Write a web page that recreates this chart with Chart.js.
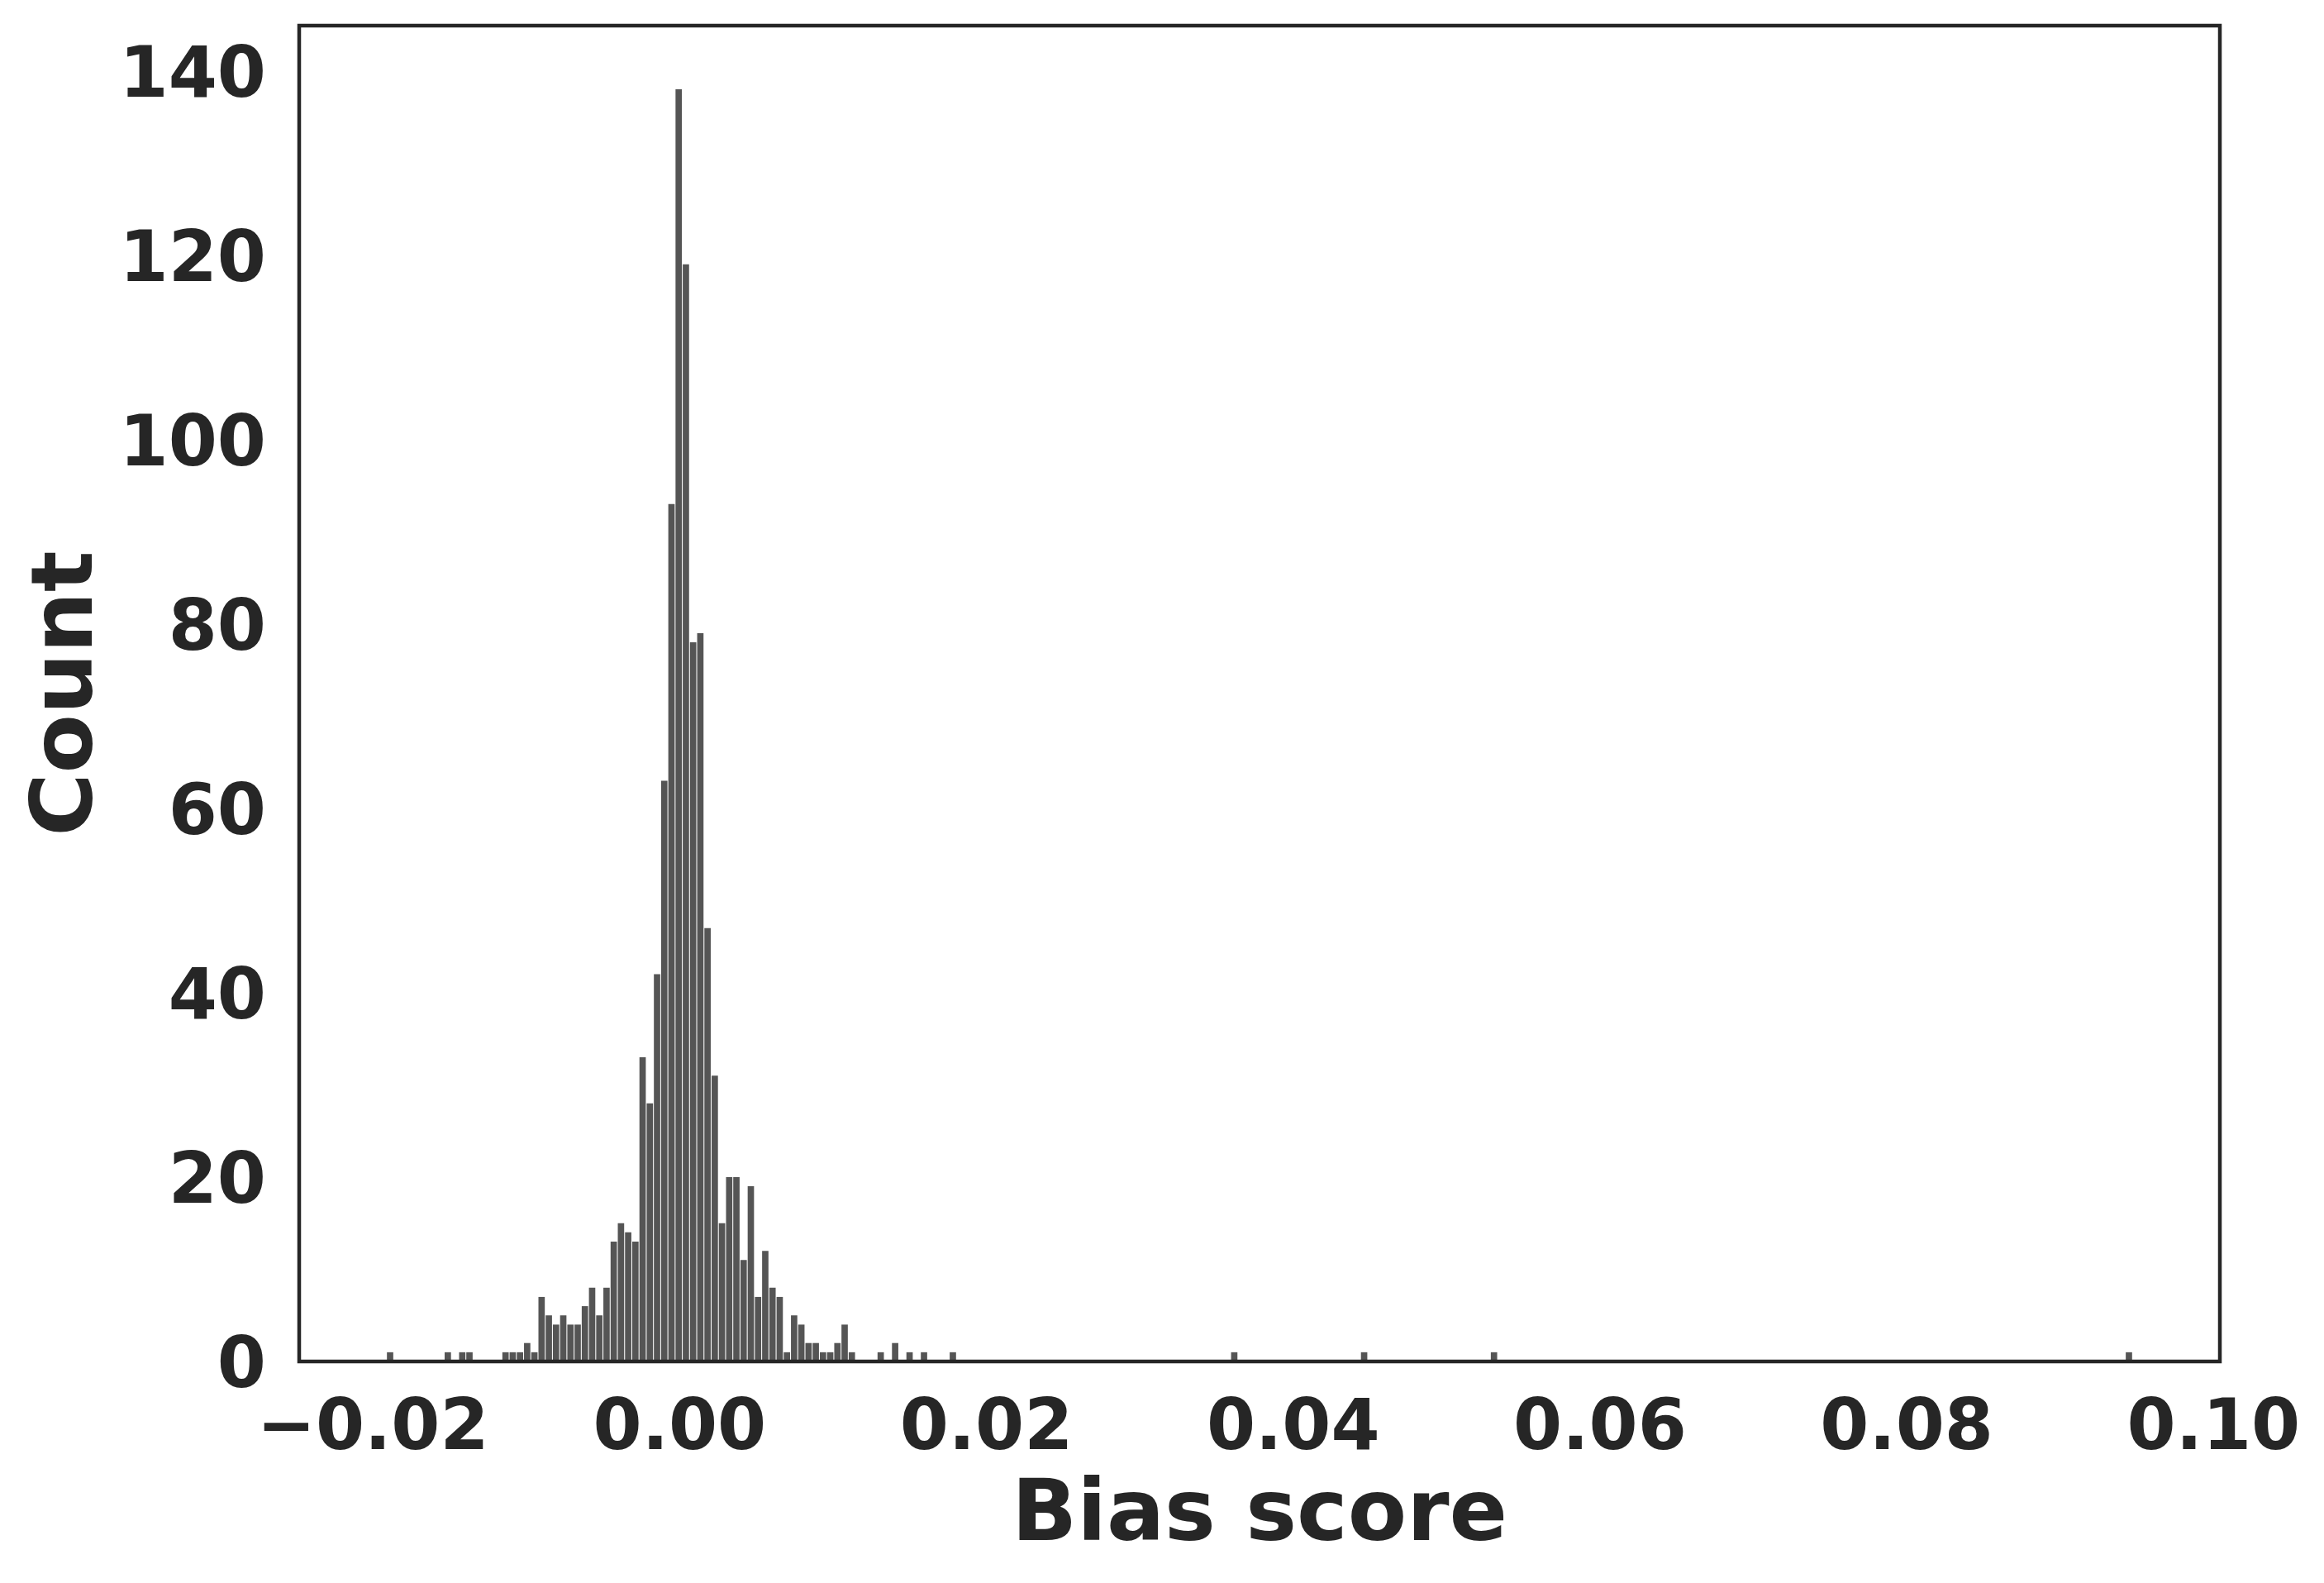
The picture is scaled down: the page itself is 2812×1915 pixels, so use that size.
<!DOCTYPE html>
<html>
<head>
<meta charset="utf-8">
<script src="https://cdn.jsdelivr.net/npm/chart.js@4.4.0/dist/chart.umd.min.js"></script>
<style>
  html, body { margin: 0; padding: 0; background: #fff; }
  #wrap { width: 2812px; height: 1915px; }
</style>
</head>
<body>
<div id="wrap"><canvas id="hist"></canvas></div>
<script>
// bias score histogram: 242 equal bins, only the non-empty ones listed
const binStart = -0.019111;
const binWidth = 0.00047037;
const binIndex = [0, 8, 10, 11,
  16, 17, 18, 19, 20, 21, 22, 23, 24, 25, 26, 27, 28, 29, 30, 31, 32,
  33, 34, 35, 36, 37, 38, 39, 40, 41, 42, 43, 44, 45, 46, 47, 48, 49,
  50, 51, 52, 53, 54, 55, 56, 57, 58, 59, 60, 61, 62, 63, 64,
  68, 70, 72, 74, 78, 117, 135, 153, 241];
const counts = [1, 1, 1, 1,
  1, 1, 1, 2, 1, 7, 5, 4, 5, 4, 4, 6, 8, 5, 8, 13, 15,
  14, 13, 33, 28, 42, 63, 93, 138, 119, 78, 79, 47, 31, 15, 20, 20, 11,
  19, 7, 12, 8, 7, 1, 5, 4, 2, 2, 1, 1, 2, 4, 1,
  1, 2, 1, 1, 1, 1, 1, 1, 1];

const xTicks = [-0.02, 0, 0.02, 0.04, 0.06, 0.08, 0.10];
const yTicks = [0, 20, 40, 60, 80, 100, 120, 140];
const xRange = [-0.024803, 0.100412];
const yRange = [0, 144.9];

const ink = '#262626';
Chart.defaults.font.family = "'DejaVu Sans', sans-serif";
Chart.defaults.color = ink;

const points = binIndex.map((b, i) => ({ x: binStart + (b + 0.5) * binWidth, y: counts[i] }));

const frame = {
  id: 'frame',
  afterDraw(chart) {
    const { ctx, chartArea: a } = chart;
    ctx.save();
    ctx.strokeStyle = ink;
    ctx.lineWidth = 4.5;
    ctx.strokeRect(a.left, a.top, a.right - a.left, a.bottom - a.top);
    ctx.restore();
  }
};

const ctx = document.getElementById('hist').getContext('2d');

new Chart(ctx, {
  type: 'bar',
  data: {
    datasets: [{
      data: points,
      backgroundColor: '#555555',
      borderWidth: 0,
      barPercentage: 0.88,
      categoryPercentage: 1.0
    }]
  },
  options: {
    responsive: true,
    maintainAspectRatio: false,
    devicePixelRatio: 1,
    animation: false,
    layout: { padding: { left: 0, right: 126, top: 31, bottom: 0 } },
    plugins: {
      legend: { display: false },
      tooltip: { enabled: false }
    },
    scales: {
      x: {
        type: 'linear',
        offset: false,
        min: xRange[0],
        max: xRange[1],
        grid: { display: false, drawTicks: false },
        border: { display: false },
        afterBuildTicks: scale => { scale.ticks = xTicks.map(v => ({ value: v })); },
        afterFit: scale => {
          scale.height = 268;
          scale.paddingLeft = 0;
          scale.paddingRight = 0;
        },
        ticks: {
          padding: 41,
          maxRotation: 0,
          font: { size: 85, weight: 'bold', lineHeight: 1 },
          callback: v => (v < 0 ? '\u2212' : '') + Math.abs(v).toFixed(2)
        },
        title: {
          display: true,
          text: 'Bias score',
          font: { size: 104, weight: 'bold', lineHeight: 1 },
          padding: { top: 0, bottom: 27 }
        }
      },
      y: {
        min: yRange[0],
        max: yRange[1],
        grid: { display: false, drawTicks: false },
        border: { display: false },
        afterBuildTicks: scale => { scale.ticks = yTicks.map(v => ({ value: v })); },
        afterFit: scale => {
          scale.width = 362;
          scale.paddingTop = 0;
          scale.paddingBottom = 0;
        },
        ticks: {
          padding: 40,
          labelOffset: 9,
          font: { size: 85, weight: 'bold', lineHeight: 1 }
        },
        title: {
          display: true,
          text: 'Count',
          font: { size: 104, weight: 'bold', lineHeight: 1 },
          padding: { top: 32, bottom: 0 }
        }
      }
    }
  },
  plugins: [frame]
});
</script>
</body>
</html>
